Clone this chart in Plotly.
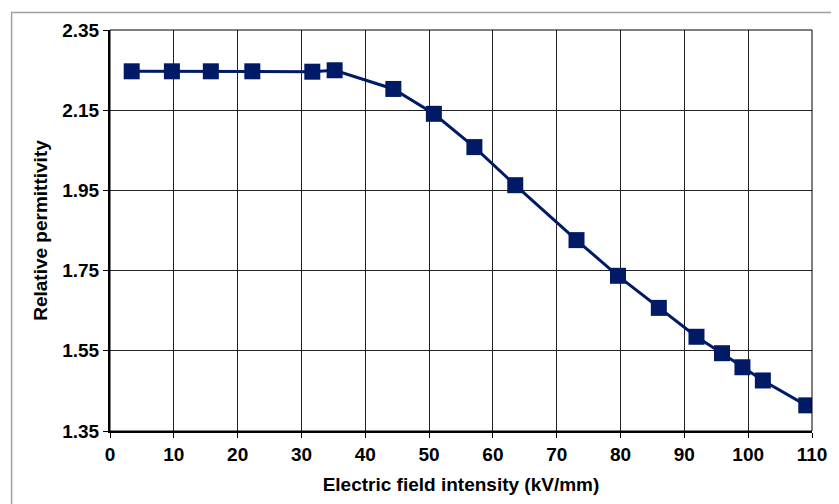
import plotly.graph_objects as go

field_kv_mm = [3.4, 9.7, 15.8, 22.3, 31.7, 35.2, 44.4, 50.75, 57.1, 63.5, 73.1,
               79.6, 86.0, 91.9, 95.9, 99.1, 102.3, 109.1]
rel_permittivity = [2.247, 2.247, 2.247, 2.247, 2.246, 2.2496, 2.203, 2.141, 2.058,
                    1.963, 1.826, 1.737, 1.657, 1.585, 1.544, 1.509, 1.476, 1.414]

x_ticks = [0, 10, 20, 30, 40, 50, 60, 70, 80, 90, 100, 110]
y_ticks = [1.35, 1.55, 1.75, 1.95, 2.15, 2.35]

navy = "#001A66"
font_fam = "Arial, Liberation Sans, sans-serif"

fig = go.Figure()
fig.add_trace(go.Scatter(
    x=field_kv_mm, y=rel_permittivity, mode="lines+markers",
    line=dict(color=navy, width=3),
    marker=dict(symbol="square", size=16, color=navy, line=dict(width=0)),
    showlegend=False,
))

fig.update_layout(
    width=831, height=496,
    margin=dict(l=102, r=23, t=20, b=73),
    paper_bgcolor="white", plot_bgcolor="white",
    font=dict(family=font_fam, color="black", size=19, weight="bold"),
    xaxis=dict(
        range=[0, 110], tickvals=x_ticks, ticktext=[str(v) for v in x_ticks],
        showgrid=True, gridcolor="#222222", gridwidth=1,
        showline=True, linecolor="black", linewidth=2,
        ticks="outside", ticklen=5, tickcolor="black", tickwidth=1,
        tickfont=dict(size=19, family=font_fam, weight="bold"),
        title=dict(text="Electric field intensity (kV/mm)", standoff=14,
                   font=dict(size=19, family=font_fam, weight="bold")),
        zeroline=False,
    ),
    yaxis=dict(
        range=[1.35, 2.35], tickvals=y_ticks, ticktext=["%.2f" % v for v in y_ticks],
        showgrid=True, gridcolor="#222222", gridwidth=1,
        showline=True, linecolor="black", linewidth=2,
        ticks="outside", ticklen=5, tickcolor="black", tickwidth=1,
        tickfont=dict(size=19, family=font_fam, weight="bold"),
        title=dict(text="Relative permittivity", standoff=10,
                   font=dict(size=19, family=font_fam, weight="bold")),
        zeroline=False,
    ),
    shapes=[
        dict(type="rect", xref="paper", yref="paper", x0=0, x1=1, y0=0, y1=1,
             line=dict(color="black", width=1), layer="above"),
        dict(type="rect", xref="paper", yref="paper", x0=-0.1402, x1=1.1, y0=-0.3, y1=1.0434,
             line=dict(color="#A0A0A0", width=1.5), layer="below"),
    ],
)

fig.write_html("out.html")
